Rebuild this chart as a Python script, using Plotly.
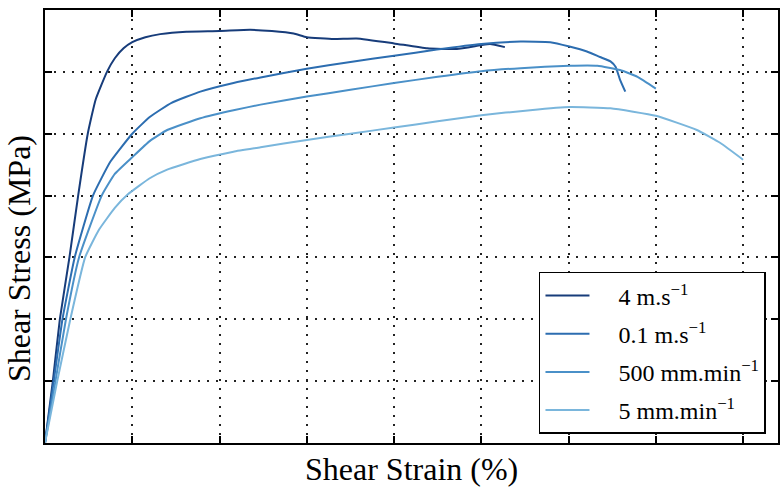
import plotly.graph_objects as go

# ---- data ----
labels = ["4 m.s<sup>\u22121</sup>", "0.1 m.s<sup>\u22121</sup>",
          "500 mm.min<sup>\u22121</sup>", "5 mm.min<sup>\u22121</sup>"]
x_title = "Shear Strain (%)"
y_title = "Shear Stress (MPa)"

x_4ms = [0, 0.09, 0.17, 0.28, 0.38, 0.49, 0.58, 0.71, 0.80, 0.90, 1.0, 1.15, 1.32, 1.62,
         2.0, 2.35, 2.6, 2.85, 3.0, 3.31, 3.57, 4.0, 4.38, 4.72, 4.99, 5.10, 5.27]
y_4ms = [0, 1.0, 2.0, 3.0, 4.0, 5.0, 5.55, 6.0, 6.22, 6.38, 6.48, 6.56, 6.61, 6.65,
         6.66, 6.68, 6.66, 6.62, 6.56, 6.53, 6.54, 6.46, 6.38, 6.37, 6.43, 6.45, 6.40]

x_01ms = [0, 0.10, 0.20, 0.34, 0.55, 0.75, 1.0, 1.2, 1.45, 1.78, 2.16, 2.47, 3.0, 3.5,
          4.0, 4.49, 5.0, 5.45, 5.79, 6.01, 6.21, 6.36, 6.48, 6.54, 6.59, 6.65]
y_01ms = [0, 1.0, 2.0, 3.0, 4.0, 4.55, 5.0, 5.27, 5.50, 5.68, 5.82, 5.91, 6.05, 6.16,
          6.26, 6.36, 6.45, 6.49, 6.48, 6.41, 6.33, 6.24, 6.17, 6.08, 5.87, 5.68]

x_500 = [0, 0.12, 0.24, 0.39, 0.65, 0.8, 1.0, 1.2, 1.40, 1.78, 2.16, 2.47, 3.0, 3.5, 4.0,
         4.5, 5.0, 5.45, 6.01, 6.33, 6.59, 6.79, 7.00]
y_500 = [0, 1.0, 2.0, 3.0, 4.0, 4.35, 4.62, 4.88, 5.06, 5.25, 5.38, 5.47, 5.60, 5.71, 5.82,
         5.92, 6.01, 6.06, 6.10, 6.10, 6.03, 5.92, 5.73]

x_5 = [0, 0.14, 0.29, 0.46, 0.62, 0.8, 0.95, 1.2, 1.40, 1.78, 2.16, 2.47, 3.0, 3.5, 4.0,
       4.5, 5.0, 5.56, 6.01, 6.48, 7.0, 7.47, 7.74, 8.0]
y_5 = [0, 1.0, 2.0, 3.0, 3.45, 3.8, 4.02, 4.28, 4.42, 4.59, 4.71, 4.78, 4.90, 5.00, 5.10,
       5.20, 5.30, 5.38, 5.43, 5.41, 5.29, 5.06, 4.85, 4.58]

series_x = [x_4ms, x_01ms, x_500, x_5]
series_y = [y_4ms, y_01ms, y_500, y_5]
colors = ["#173c7a", "#2c6db0", "#4a90c8", "#7ab6dc"]

FONT = "Liberation Serif, Times New Roman, Times, serif"
PAD = "\u00a0\u00a0\u00a0\u00a0"

fig = go.Figure()
for i in range(4):
    fig.add_trace(go.Scatter(
        x=series_x[i], y=series_y[i], mode="lines", name=PAD + labels[i],
        legendgroup=f"g{i}",
        line=dict(color=colors[i], width=2, shape="spline", smoothing=0.4),
    ))

axis_common = dict(
    showline=True, linecolor="black", linewidth=2, mirror="ticks",
    ticks="inside", ticklen=7, tickwidth=1.5, tickcolor="black",
    showticklabels=False, tick0=0, dtick=1,
    showgrid=True, gridcolor="#222222", gridwidth=1.5, griddash="2px,7px",
    zeroline=False, automargin=False,
)

fig.update_layout(
    width=783, height=489,
    margin=dict(l=45, r=5, t=10, b=46),
    paper_bgcolor="white", plot_bgcolor="white",
    font=dict(family=FONT, color="black"),
    xaxis=dict(range=[0, 8.4], **axis_common),
    yaxis=dict(range=[0, 7], **axis_common),
    legend=dict(
        x=0.9836, y=0.021, xanchor="right", yanchor="bottom",
        bgcolor="white", bordercolor="black", borderwidth=1.5,
        font=dict(size=24, family=FONT, color="black"),
        tracegroupgap=4, itemwidth=44,
    ),
    showlegend=True,
    annotations=[
        dict(text=x_title, xref="paper", yref="paper", x=0.5, y=-0.060,
             xanchor="center", yanchor="middle", showarrow=False,
             font=dict(size=32, family=FONT, color="black")),
        dict(text=y_title, xref="paper", yref="paper", x=-0.0355, y=0.427,
             xanchor="center", yanchor="middle", showarrow=False, textangle=-90,
             font=dict(size=32, family=FONT, color="black")),
    ],
)

fig.write_html("out.html")
